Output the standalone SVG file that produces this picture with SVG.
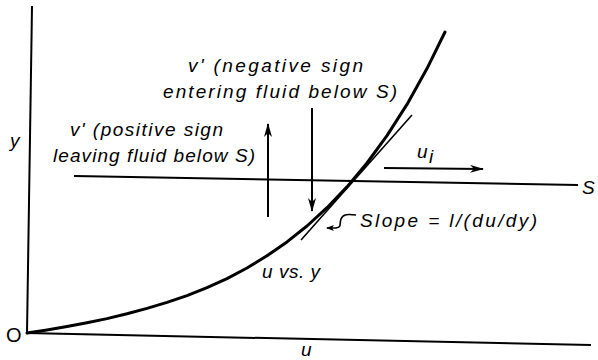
<svg xmlns="http://www.w3.org/2000/svg" width="598" height="360" viewBox="0 0 598 360">
<defs>
<style>
.ax{stroke:#000;stroke-width:2;fill:none;stroke-linecap:square}
.crv{stroke:#000;stroke-width:3;fill:none;stroke-linecap:round;stroke-linejoin:round}
.thin{stroke:#000;stroke-width:1.6;fill:none}
.arr{stroke:#000;stroke-width:2;fill:none}
.t{font-family:"Liberation Sans",Arial,sans-serif;font-style:italic;font-size:19px;fill:#000}
.o{font-family:"Liberation Sans",Arial,sans-serif;font-size:20px;fill:#000}
</style>
<marker id="ah" viewBox="0 0 14 8" refX="13" refY="4" markerWidth="14" markerHeight="8" markerUnits="userSpaceOnUse" orient="auto">
<path d="M0,0 L14,4 L0,8 L4,4 Z" fill="#000"/>
</marker>
<marker id="ahs" viewBox="0 0 8 6" refX="7" refY="3" markerWidth="8" markerHeight="6" markerUnits="userSpaceOnUse" orient="auto">
<path d="M0,0 L8,3 L0,6 L2,3 Z" fill="#000"/>
</marker>
</defs>
<rect width="598" height="360" fill="#fff"/>
<g id="axes">
<path class="ax" d="M32,7 L27,333"/>
<path class="ax" d="M27,333 L590,345"/>
<text class="o" x="6" y="342">O</text>
<text class="t" x="10" y="147">y</text>
<text class="t" x="301" y="356">u</text>
</g>
<g id="curve">
<path class="crv" d="M27,333 L47,330 L67,326.6 L87,322.8 L107,318.6 L127,313.8 L147,308.4 L167,302.4 L187,295.6 L207,287.6 L227,278.6 L247,268 L267,255.8 L287,241.9 L307,226 L327,207.7 L347,186.9 L367,163 L387,135.6 L407,104.4 L427,68.6 L445,32"/>
<text class="t" x="262" y="278" textLength="58" lengthAdjust="spacing">u vs. y</text>
</g>
<g id="tangent">
<path class="thin" d="M412,115 L301,240"/>
<text class="t" x="360" y="227" textLength="177" lengthAdjust="spacing">Slope = l/(du/dy)</text>
</g>
<g id="lineS">
<path class="ax" d="M75,176 L577,185"/>
<text class="t" x="582" y="194" font-size="20">S</text>
</g>
<g id="label-positive">
<text class="t" x="70" y="136" textLength="153" lengthAdjust="spacing">v' (positive sign</text>
<text class="t" x="53" y="162" textLength="202" lengthAdjust="spacing">leaving fluid below S)</text>
</g>
<g id="label-negative">
<text class="t" x="188" y="72" textLength="175" lengthAdjust="spacing">v' (negative sign</text>
<text class="t" x="163" y="98" textLength="234" lengthAdjust="spacing">entering fluid below S)</text>
</g>
<g id="label-ui">
<text class="t" x="417" y="158">u</text>
<text class="t" x="429" y="163" font-size="13">i</text>
</g>
<g id="connectors">
<path class="arr" d="M268,217 L268,124" marker-end="url(#ah)"/>
<path class="arr" d="M312,108 L312,211" marker-end="url(#ah)"/>
<path class="arr" d="M384,168 L483,169" marker-end="url(#ah)"/>
<path class="thin" d="M356,215 C348,214 343,214 341,219 C339,225 342,227 336,228 L327,228" marker-end="url(#ahs)"/>
</g>
</svg>
